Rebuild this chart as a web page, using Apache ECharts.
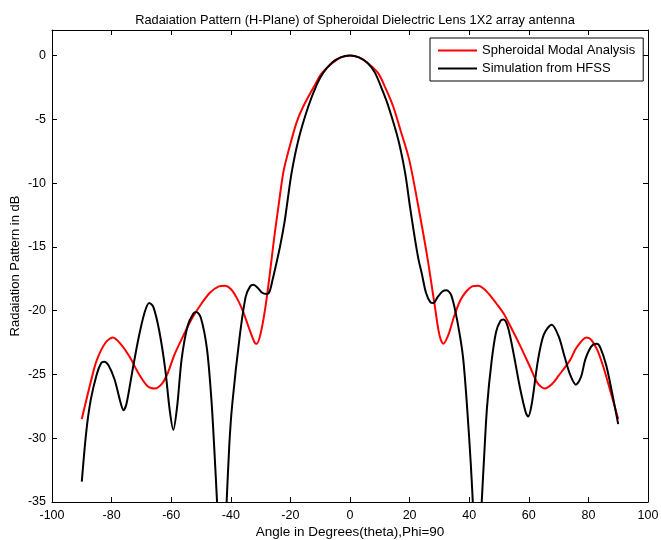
<!DOCTYPE html>
<html>
<head>
<meta charset="utf-8">
<script src="https://cdn.jsdelivr.net/npm/echarts@6/dist/echarts.min.js"></script>
<style>
  html, body { margin: 0; padding: 0; background: #fff; }
  #main { width: 661px; height: 540px; }
</style>
</head>
<body>
<div id="main"></div>
<script>
  // Spheroidal modal analysis (red)
  var modalTheta = [-90, -87, -85, -82, -79.6, -77, -74, -71, -68, -65.5, -63, -61, -59, -56, -53, -50, -47, -44, -42, -40, -38, -36, -34, -32, -31.3, -30, -28.5, -27, -25.5, -24, -22.4, -21, -18, -15.7, -12, -9.5, -6, -3, 0,
    3, 6, 9.5, 12, 14.5, 17, 19.9, 22.9, 25.9, 28.5, 30, 31.3, 33, 35, 37, 39, 41, 43, 45, 47, 49, 51.5, 54, 57, 60.4, 63, 65.4, 68, 70, 73.8, 76, 79.4, 81, 83, 85, 87, 90];
  var modalDb = [-28.5, -25.6, -23.9, -22.5, -22.1, -22.6, -23.6, -24.9, -25.9, -26.1, -25.7, -24.8, -23.5, -22.0, -20.6, -19.5, -18.6, -18.1, -18.05, -18.3, -19.0, -20.0, -21.3, -22.5, -22.6, -21.8, -19.9, -17.3, -14.4, -11.8, -9.2, -7.8, -5.3, -4.0, -2.4, -1.4, -0.6, -0.15, 0,
    -0.15, -0.6, -1.4, -2.6, -4.0, -5.9, -8.2, -11.8, -15.75, -19.7, -21.9, -22.6, -21.9, -20.4, -19.2, -18.5, -18.1, -18.05, -18.3, -18.8, -19.4, -20.2, -21.3, -22.7, -24.4, -25.7, -26.1, -25.7, -25.1, -23.9, -22.9, -22.1, -22.3, -23.1, -24.4, -26.0, -28.5];

  // HFSS simulation (black)
  var hfssTheta = [-90, -88.5, -87, -85, -83.5, -82.5, -81, -79, -77, -76, -75, -73, -71, -69, -67.4, -66, -64, -62, -60.5, -59.3, -58, -56.5, -54.5, -52.5, -51.5, -50, -48, -46.5, -45.5, -44.5, -43, -41.5, -40.5, -39.5, -37, -35, -33.5, -32.4, -31, -29.5, -28, -27, -26, -25, -23.5, -22, -21.2, -19.6, -17.3, -14, -11, -9, -6, -3, 0,
    3, 6, 8.4, 11, 12.9, 16.2, 18.5, 20.1, 21.8, 23, 24.1, 25.5, 27, 28, 29.5, 31, 32.4, 34, 36, 38, 40, 41, 42.7, 44.2, 45, 46, 47.5, 49, 50.5, 51.5, 53, 55, 57, 59, 59.8, 61, 63, 65, 67.7, 70, 72, 74, 75.8, 77.5, 79, 81, 82.8, 84, 86, 88, 90];
  var hfssDb = [-33.4, -29.5, -27.0, -25.0, -24.1, -24.0, -24.3, -25.4, -27.2, -27.8, -27.3, -24.7, -22.2, -20.2, -19.4, -19.7, -21.6, -24.6, -27.8, -29.35, -27.5, -23.8, -21.2, -20.2, -20.1, -20.6, -23.0, -27.0, -31.0, -35.5, -42, -35.5, -30.5, -27.3, -22.0, -18.9, -18.1, -17.97, -18.2, -18.6, -18.7, -18.5, -17.6, -16.6, -15.0, -13.1, -11.8, -9.2, -6.6, -4.0, -2.2, -1.36, -0.55, -0.13, 0,
    -0.15, -0.6, -1.36, -2.8, -4.0, -6.6, -9.2, -11.8, -14.4, -16.0, -17.1, -18.6, -19.35, -19.4, -18.9, -18.5, -18.4, -18.8, -20.8, -23.8, -30, -34, -42, -35, -31.5, -27.5, -24.0, -21.7, -20.8, -20.7, -21.3, -23.5, -26.0, -28.0, -28.3, -27.3, -24.0, -21.9, -21.1, -22.0, -23.6, -25.1, -25.8, -25.2, -23.8, -22.8, -22.6, -22.9, -24.3, -26.5, -28.9];

  var xTicks = [-100, -80, -60, -40, -20, 0, 20, 40, 60, 80, 100];
  var yTicks = [-35, -30, -25, -20, -15, -10, -5, 0];

  function pairs(xs, ys) {
    return xs.map(function (x, i) { return [x, ys[i]]; });
  }

  var font = 'Liberation Sans, Arial, sans-serif';
  var axisCommon = {
    axisLine: { show: true, onZero: false, lineStyle: { color: '#000', width: 1 } },
    axisTick: { show: true, inside: true, length: 5, lineStyle: { color: '#000' } },
    splitLine: { show: false }
  };

  var chart = echarts.init(document.getElementById('main'));
  chart.setOption({
    backgroundColor: '#fff',
    animation: false,
    title: {
      text: 'Radaiation Pattern (H-Plane) of Spheroidal Dielectric Lens 1X2 array antenna',
      left: 350, textAlign: 'center', top: 9,
      textStyle: { fontSize: 12.8, fontWeight: 'normal', color: '#000', fontFamily: font }
    },
    legend: {
      orient: 'vertical',
      left: 430, top: 38,
      padding: [5, 8, 5, 8],
      itemGap: 3,
      icon: 'rect',
      itemWidth: 39, itemHeight: 2,
      borderColor: '#000', borderWidth: 1,
      backgroundColor: '#fff',
      textStyle: { fontSize: 13, lineHeight: 15, color: '#000', fontFamily: font },
      data: ['Spheroidal Modal Analysis', 'Simulation from HFSS']
    },
    grid: { left: 52, top: 30, right: 13, bottom: 38, containLabel: false, outerBoundsMode: 'none' },
    xAxis: [
      Object.assign({}, axisCommon, {
        type: 'value', min: -100, max: 100, interval: 20, position: 'bottom',
        name: 'Angle in Degrees(theta),Phi=90', nameLocation: 'middle', nameGap: 23,
        nameMoveOverlap: false,
        nameTextStyle: { fontSize: 13.5, color: '#000', fontFamily: font },
        axisLabel: { fontSize: 12.5, color: '#000', fontFamily: font, margin: 7 }
      }),
      Object.assign({}, axisCommon, {
        type: 'value', min: -100, max: 100, interval: 20, position: 'top',
        axisLabel: { show: false }
      })
    ],
    yAxis: [
      Object.assign({}, axisCommon, {
        type: 'value', min: -35, max: 2, interval: 5, position: 'left',
        name: 'Radaiation Pattern in dB', nameLocation: 'middle', nameGap: 30,
        nameMoveOverlap: false,
        nameTextStyle: { fontSize: 13, color: '#000', fontFamily: font },
        axisLabel: {
          fontSize: 12.5, color: '#000', fontFamily: font, margin: 6,
          formatter: function (v) { return yTicks.indexOf(v) >= 0 ? String(v) : ''; }
        }
      }),
      Object.assign({}, axisCommon, {
        type: 'value', min: -35, max: 2, interval: 5, position: 'right',
        axisLabel: { show: false }
      })
    ],
    series: [
      {
        name: 'Spheroidal Modal Analysis', type: 'line', smooth: 0.3,
        symbol: 'none', clip: true,
        lineStyle: { color: '#ff0000', width: 2 }, itemStyle: { color: '#ff0000' },
        data: pairs(modalTheta, modalDb)
      },
      {
        name: 'Simulation from HFSS', type: 'line', smooth: 0.3,
        symbol: 'none', clip: true,
        lineStyle: { color: '#000', width: 2 }, itemStyle: { color: '#000' },
        data: pairs(hfssTheta, hfssDb)
      }
    ]
  });
</script>
</body>
</html>
